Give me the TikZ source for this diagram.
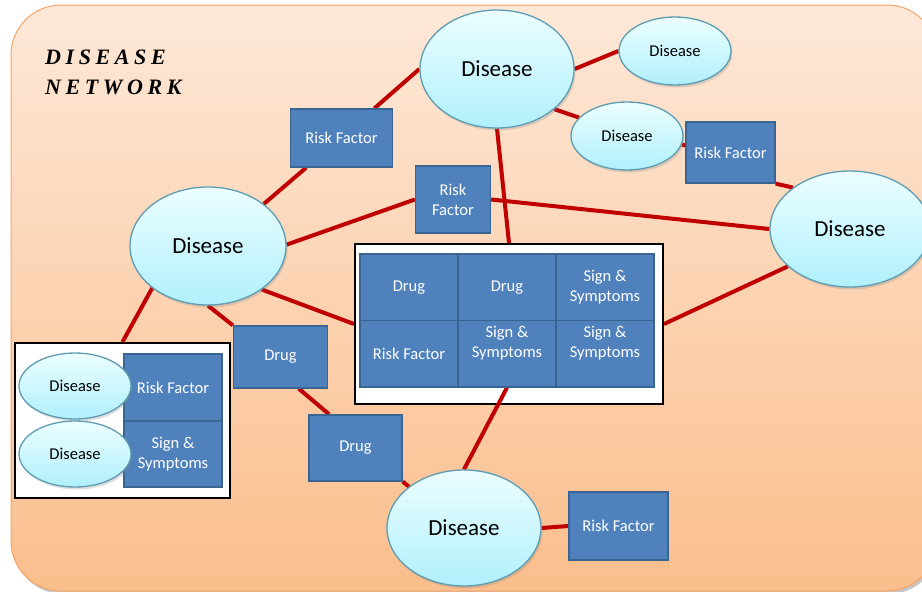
\documentclass[tikz,border=0pt]{standalone}
\usepackage{fontspec}
\setmainfont{Carlito}
\newfontfamily\titlefont{Liberation Serif}
\usetikzlibrary{shapes.geometric,shadows}
\pgfdeclarelayer{bg}
\pgfdeclarelayer{boxes}
\pgfdeclarelayer{edges}
\pgfsetlayers{bg,boxes,edges,main}
\definecolor{peachtop}{HTML}{FDE8D8}
\definecolor{peachbot}{HTML}{FBBE8C}
\definecolor{peachline}{HTML}{F5A465}
\definecolor{dztop}{HTML}{ECFEFF}
\definecolor{dzbot}{HTML}{B0F0FC}
\definecolor{dzline}{HTML}{5E9CB3}
\definecolor{boxblue}{HTML}{4F81BD}
\definecolor{boxline}{HTML}{3A6592}
\definecolor{linkred}{HTML}{C00000}
\newcommand\upstack[1]{\raisebox{6pt}[0pt][0pt]{\begin{tabular}{@{}c@{}}#1\end{tabular}}}
\tikzset{
  dz/.style={ellipse, inner sep=0pt, top color=dztop, bottom color=dzbot,
    draw=dzline, line width=1.3pt, text=black,
    drop shadow={shadow xshift=1.5pt, shadow yshift=-2.5pt, opacity=0.25}},
  bigdz/.style={dz, font=\fontsize{23}{27}\selectfont},
  smalldz/.style={dz, font=\fontsize{16.5}{20}\selectfont},
  bluebox/.style={rectangle, inner sep=0pt, fill=boxblue, draw=boxline,
    line width=1.3pt, text=white, align=center,
    font=\fontsize{16.5}{20}\selectfont},
  whitebox/.style={rectangle, inner sep=0pt, fill=white, draw=black, line width=2pt},
  link/.style={draw=linkred, line width=4pt},
  titletext/.style={anchor=base west, inner sep=0pt,
    font=\titlefont\bfseries\itshape\fontsize{22}{26}\selectfont}
}
\begin{document}
\begin{tikzpicture}[x=1pt,y=-1pt]
\useasboundingbox (0,0) rectangle (922,592);

% background panel
\begin{pgfonlayer}{bg}
  \fill[black!22] (13,8) [rounded corners=50pt] rectangle (939,594);
  \shade[top color=peachtop, bottom color=peachbot, draw=peachline, line width=1pt,
         rounded corners=50pt] (11,5) rectangle (937,591);
\end{pgfonlayer}

% title
\node[titletext] (t1) at (45,64) {D\kern4.6pt I\kern4.6pt S\kern4.6pt E\kern4.6pt A\kern4.6pt S\kern4.6pt E};
\node[titletext] (t2) at (45,94) {N\kern4.6pt E\kern4.6pt T\kern4.6pt W\kern4.6pt O\kern4.6pt R\kern4.6pt K};

% white group boxes
\begin{pgfonlayer}{boxes}
  \node[whitebox, minimum width=215pt, minimum height=155pt] (lbox) at (122.5,420.5) {};
  \node[whitebox, minimum width=308pt, minimum height=160pt] (cbox) at (509,324) {};
\end{pgfonlayer}

% blue boxes
\node[bluebox, minimum width=102pt, minimum height=58pt] (RF1) at (341.5,138) {Risk Factor};
\node[bluebox, minimum width=75pt, minimum height=67pt] (RF2) at (453,199.5) {Risk\\Factor};
\node[bluebox, minimum width=89pt, minimum height=61pt] (RF3) at (730.5,152.5) {Risk Factor};
\node[bluebox, minimum width=94pt, minimum height=62pt] (DrugL) at (280.5,357) {Drug};
\node[bluebox, minimum width=93pt, minimum height=66pt] (DrugB) at (355.5,448) {Drug};
\node[bluebox, minimum width=99pt, minimum height=68pt] (RF4) at (618.5,526) {Risk Factor};
\node[bluebox, minimum width=98pt, minimum height=67pt] (lRF) at (173,387.5) {Risk Factor};
\node[bluebox, minimum width=98pt, minimum height=66pt] (lSS) at (173,454) {Sign \&\\Symptoms};

% centre grid
\node[bluebox, minimum width=98pt, minimum height=66.5pt] (c11) at (409,287.25) {Drug};
\node[bluebox, minimum width=98pt, minimum height=66.5pt] (c12) at (507,287.25) {Drug};
\node[bluebox, minimum width=98pt, minimum height=66.5pt] (c13) at (605,287.25) {Sign \&\\Symptoms};
\node[bluebox, minimum width=98pt, minimum height=66.5pt] (c21) at (409,353.75) {Risk Factor};
\node[bluebox, minimum width=98pt, minimum height=66.5pt] (c22) at (507,353.75) {\upstack{Sign \&\\Symptoms}};
\node[bluebox, minimum width=98pt, minimum height=66.5pt] (c23) at (605,353.75) {\upstack{Sign \&\\Symptoms}};

% disease ellipses
\node[bigdz, minimum width=154pt, minimum height=118pt] (topD) at (497,69) {Disease};
\node[smalldz, minimum width=112pt, minimum height=68pt] (TRD) at (675,51) {Disease};
\node[smalldz, minimum width=112pt, minimum height=68pt] (MRD) at (627,136) {Disease};
\node[bigdz, minimum width=160pt, minimum height=116pt] (RD) at (850,229) {Disease};
\node[bigdz, minimum width=156pt, minimum height=118pt] (leftD) at (208,246) {Disease};
\node[bigdz, minimum width=154pt, minimum height=116pt] (BD) at (464,528) {Disease};
\node[smalldz, minimum width=112pt, minimum height=66pt] (lD1) at (75,386) {Disease};
\node[smalldz, minimum width=112pt, minimum height=66pt] (lD2) at (75,454) {Disease};

% connectors
\begin{pgfonlayer}{edges}
  \draw[link] (leftD.37) -- (RF1.220);
  \draw[link] (RF1.42) -- (topD.180);
  \draw[link] (topD.0) -- (TRD.180);
  \draw[link] (topD.325) -- (MRD.159);
  \draw[link] (MRD) -- (RF3);
  \draw[link] (RF3.south east) -- (RD.144);
  \draw[link] (topD.south) -- (cbox.north);
  \draw[link] (leftD.1) -- (RF2.west);
  \draw[link] (RF2.east) -- (RD.west);
  \draw[link] (leftD.321) -- (cbox.west);
  \draw[link] (cbox.east) -- (RD.211);
  \draw[link] (leftD.217) -- (lbox.north);
  \draw[link] (leftD.south) -- (DrugL.north west);
  \draw[link] (DrugL.300) -- (DrugB.128);
  \draw[link] (DrugB.south east) -- (BD.143);
  \draw[link] (c22.south) -- (BD.north);
  \draw[link] (BD.east) -- (RF4.west);
\end{pgfonlayer}
\end{tikzpicture}
\end{document}
